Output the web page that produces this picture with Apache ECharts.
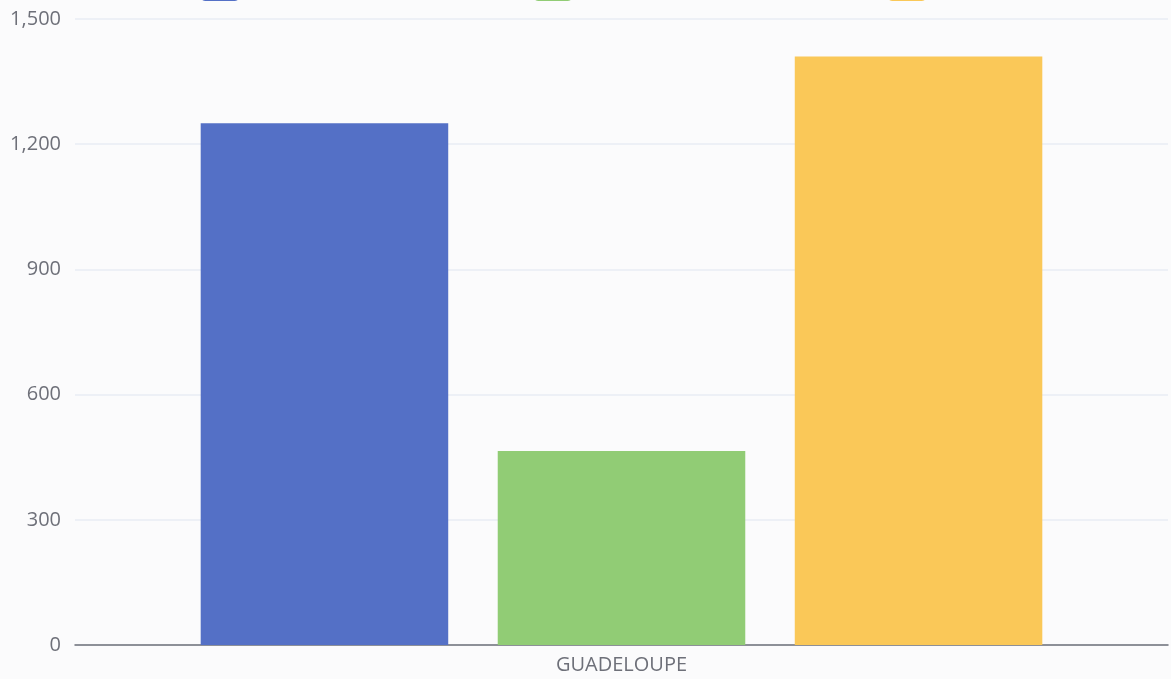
<!DOCTYPE html>
<html>
<head>
<meta charset="utf-8">
<script src="https://cdn.jsdelivr.net/npm/echarts@6/dist/echarts.min.js"></script>
<style>
html,body{margin:0;padding:0;background:#fbfbfc;}
#chart{width:1171px;height:679px;}
</style>
</head>
<body>
<div id="chart"></div>
<script>
const categories = ['GUADELOUPE'];
const seriesNames = ['Série 1', 'Série 2', 'Série 3'];
const seriesValues = [[1250], [465], [1410]];
const yTicks = [0, 300, 600, 900, 1200, 1500];
const colors = ['#5470c6', '#91cc75', '#fac858'];
const legendLefts = [195, 528, 882];

const chart = echarts.init(document.getElementById('chart'));
const labelFont = {fontFamily: 'Open Sans', fontSize: 20, color: '#6e7079'};
chart.setOption({
  backgroundColor: '#fbfbfc',
  color: colors,
  animation: false,
  legend: seriesNames.map((n, i) => ({
    data: [n], left: legendLefts[i], top: -26, itemWidth: 40, itemHeight: 22,
    textStyle: {fontFamily: 'Open Sans', fontSize: 20, color: '#333'}
  })),
  grid: {left: 75, right: 3, top: 19, bottom: 34, containLabel: false},
  xAxis: {
    type: 'category', data: categories,
    axisLine: {lineStyle: {color: '#6e7079', width: 1.5}},
    axisTick: {length: 6, lineStyle: {color: '#6e7079'}},
    axisLabel: Object.assign({margin: 10}, labelFont)
  },
  yAxis: {
    type: 'value', min: yTicks[0], max: yTicks[yTicks.length - 1], interval: 300,
    axisLabel: Object.assign({margin: 14, formatter: v => v.toLocaleString('en-US')}, labelFont),
    splitLine: {lineStyle: {color: '#e9ecf5', width: 1.5}}
  },
  series: seriesNames.map((n, i) => ({
    name: n, type: 'bar', data: seriesValues[i],
    barCategoryGap: '23%', barGap: '20%'
  }))
});
</script>
</body>
</html>
